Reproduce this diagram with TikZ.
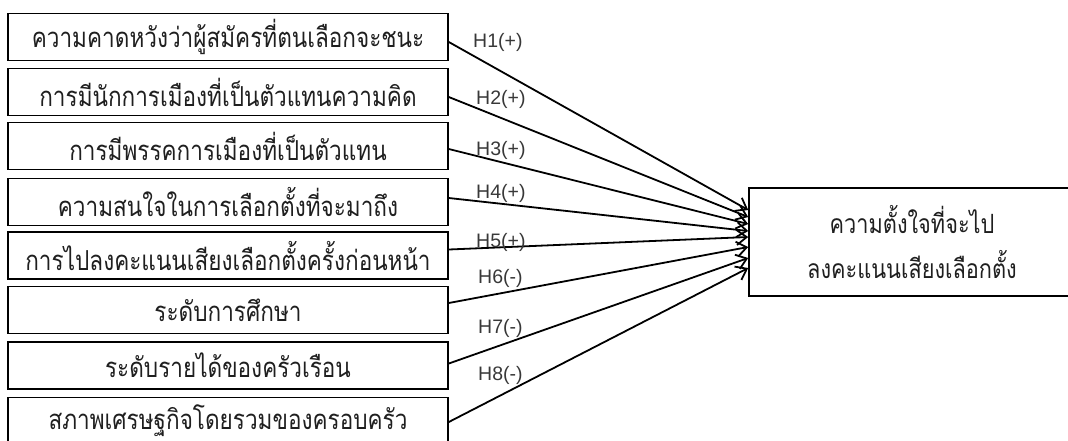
\documentclass[tikz,border=0pt]{standalone}
\usepackage{fontspec}
\setmainfont{Liberation Sans}
\newfontfamily\thaifont[Script=Thai,FakeStretch=0.82]{Loma}
\usetikzlibrary{arrows.meta,calc}
\begin{document}
\begin{tikzpicture}[x=1pt,y=-1pt,
  leftbox/.style={draw, line width=1.6pt, minimum width=440pt, minimum height=47pt, inner sep=0pt, text=black!88, font=\thaifont\fontsize{27.5}{30}\selectfont},
  rightbox/.style={draw, line width=1.6pt, minimum width=326pt, minimum height=108pt, inner sep=0pt, align=center, text=black!88, font=\thaifont\fontsize{26.5}{45}\selectfont},
  hyp/.style={-{Straight Barb[length=10pt,width=15pt,line width=1.8pt]}, line width=1.8pt},
  hlab/.style={anchor=west, inner sep=0pt, text=black!78, font=\fontsize{19.5}{22}\selectfont}]
\useasboundingbox (0,0) rectangle (1068,440);
\begin{scope}
\clip (0,0) rectangle (1068,440);
\node[leftbox] (b1) at (228,37) {ความคาดหวังว่าผู้สมัครที่ตนเลือกจะชนะ};
\node[leftbox] (b2) at (228,92) {การมีนักการเมืองที่เป็นตัวแทนความคิด};
\node[leftbox] (b3) at (228,146) {การมีพรรคการเมืองที่เป็นตัวแทน};
\node[leftbox] (b4) at (228,202) {ความสนใจในการเลือกตั้งที่จะมาถึง};
\node[leftbox] (b5) at (228,255.5) {การไปลงคะแนนเสียงเลือกตั้งครั้งก่อนหน้า};
\node[leftbox] (b6) at (228,310) {ระดับการศึกษา};
\node[leftbox] (b7) at (228,365.5) {ระดับรายได้ของครัวเรือน};
\node[leftbox] (b8) at (228,421) {สภาพเศรษฐกิจโดยรวมของครอบครัว};
\node[rightbox] (t) at (912,242) {ความตั้งใจที่จะไป\\ลงคะแนนเสียงเลือกตั้ง};
\end{scope}
\coordinate (s1) at ([yshift=-5pt]b1.east);
\coordinate (s2) at ([yshift=-5pt]b2.east);
\coordinate (s3) at ([yshift=-3pt]b3.east);
\coordinate (s4) at ([yshift=4pt]b4.east);
\coordinate (s5) at ([yshift=6pt]b5.east);
\coordinate (s6) at ([yshift=7pt]b6.east);
\coordinate (s7) at ([yshift=2pt]b7.east);
\coordinate (s8) at ([yshift=-1pt]b8.east);
\coordinate (e1) at ([yshift=32pt]t.west);
\coordinate (e2) at ([yshift=25pt]t.west);
\coordinate (e3) at ([yshift=18pt]t.west);
\coordinate (e4) at ([yshift=11pt]t.west);
\coordinate (e5) at ([yshift=5pt]t.west);
\coordinate (e6) at ([yshift=-5pt]t.west);
\coordinate (e7) at ([yshift=-16pt]t.west);
\coordinate (e8) at ([yshift=-26pt]t.west);
\foreach \i in {1,...,8} {\draw[hyp] (s\i) -- (e\i);}
\node[hlab] (h1) at (473,42) {H1(+)};
\node[hlab] (h2) at (476,99) {H2(+)};
\node[hlab] (h3) at (476,150) {H3(+)};
\node[hlab] (h4) at (476,193) {H4(+)};
\node[hlab] (h5) at (476,242) {H5(+)};
\node[hlab] (h6) at (478,278) {H6(-)};
\node[hlab] (h7) at (478,328) {H7(-)};
\node[hlab] (h8) at (478,375) {H8(-)};
\end{tikzpicture}
\end{document}
